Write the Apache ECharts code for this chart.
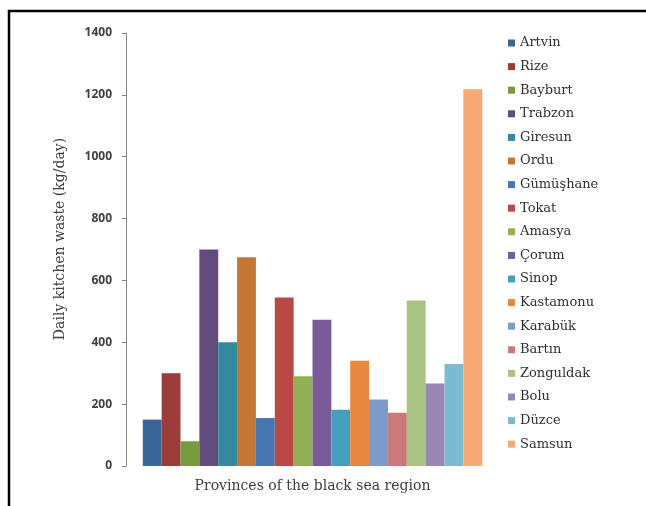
<!DOCTYPE html>
<html>
<head>
<meta charset="utf-8">
<script src="https://cdn.jsdelivr.net/npm/echarts@6/dist/echarts.min.js"></script>
<style>
  html, body { margin: 0; padding: 0; background: #fff; }
  #chart { width: 646px; height: 506px; }
</style>
</head>
<body>
<div id="chart"></div>
<script>
// Daily kitchen waste by province, Black Sea region (kg/day)
const provinces = [
  'Artvin', 'Rize', 'Bayburt', 'Trabzon', 'Giresun', 'Ordu',
  'Gümüşhane', 'Tokat', 'Amasya', 'Çorum', 'Sinop', 'Kastamonu',
  'Karabük', 'Bartın', 'Zonguldak', 'Bolu', 'Düzce', 'Samsun'
];
const wasteKgPerDay = [
  150, 300, 80, 700, 400, 675,
  155, 545, 290, 473, 182, 340,
  215, 172, 535, 267, 330, 1218
];
const provinceColors = [
  '#3A6698', '#9B3B3A', '#789A3E', '#624B7D', '#338A9D', '#C47634',
  '#4676B4', '#BA4846', '#93B055', '#7A5B9A', '#45A0BE', '#E8883F',
  '#7C9BCB', '#C97A7A', '#A9C482', '#9A86B4', '#7CBAD0', '#F7A873'
];
const yTicks = { min: 0, max: 1400, interval: 200 };

const serif = '"DejaVu Serif", "Liberation Serif", serif';
const sans = '"Open Sans", "Liberation Sans", sans-serif';

const chart = echarts.init(document.getElementById('chart'), null, { renderer: 'canvas' });

const series = provinces.map((name, i) => ({
  name: name,
  type: 'bar',
  data: [wasteKgPerDay[i]],
  barGap: '0%',
  barCategoryGap: '9%',
  itemStyle: { color: provinceColors[i] },
  emphasis: { disabled: true }
}));

chart.setOption({
  animation: false,
  color: provinceColors,
  graphic: [{
    type: 'rect',
    shape: { x: 9, y: 11, width: 700, height: 560 },
    style: { fill: 'none', stroke: '#000', lineWidth: 2.5 },
    silent: true
  }, {
    // vertical axis title, rotated
    type: 'text',
    x: 60,
    y: 239,
    rotation: Math.PI / 2,
    style: {
      text: 'Daily kitchen waste (kg/day)',
      fontFamily: serif,
      fontSize: 14,
      fill: '#404040',
      align: 'center',
      verticalAlign: 'middle'
    },
    silent: true
  }],
  grid: { left: 126, right: 147, top: 33, bottom: 40 },
  legend: {
    orient: 'vertical',
    left: 503,
    top: 31,
    icon: 'rect',
    itemWidth: 7,
    itemHeight: 7,
    itemGap: 9.6,
    selectedMode: false,
    textStyle: { fontFamily: serif, fontSize: 13, color: '#303030', lineHeight: 14 },
    data: provinces
  },
  xAxis: {
    type: 'category',
    data: [''],
    name: 'Provinces of the black sea region',
    nameLocation: 'middle',
    nameGap: 13,
    nameTextStyle: { fontFamily: serif, fontSize: 14, color: '#404040' },
    axisLine: { show: false },
    axisTick: { show: false },
    axisLabel: { show: false }
  },
  yAxis: {
    type: 'value',
    min: yTicks.min,
    max: yTicks.max,
    interval: yTicks.interval,
    axisLine: { show: true, lineStyle: { color: '#868686', width: 1 } },
    axisTick: { show: true, inside: false, length: 4, lineStyle: { color: '#868686' } },
    axisLabel: {
      margin: 14,
      fontFamily: sans,
      fontSize: 12,
      fontWeight: 'bold',
      color: '#404040',
      formatter: v => String(v)
    },
    splitLine: { show: false }
  },
  series: series
});
</script>
</body>
</html>
